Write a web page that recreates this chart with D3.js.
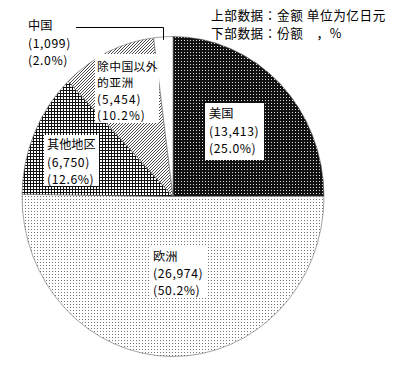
<!DOCTYPE html>
<html>
<head>
<meta charset="utf-8">
<script src="https://cdn.jsdelivr.net/npm/d3@7"></script>
<style>
  html, body { margin: 0; padding: 0; background: #fff; }
  svg { display: block; }
  text { font-family: "Noto Sans CJK JP", "Noto Sans CJK SC", sans-serif; fill: #000; }
</style>
</head>
<body>
<svg id="chart" width="400" height="366"></svg>
<script>
// Regions, clockwise from 12 o'clock
const regions = ["美国", "欧洲", "其他地区", "除中国以外的亚洲", "中国"];
const amounts = [13413, 26974, 6750, 5454, 1099];      // 亿日元
const shares  = [25.0, 50.2, 12.6, 10.2, 2.0];         // %
const labelLines = [["美国"], ["欧洲"], ["其他地区"], ["除中国以外", "的亚洲"], ["中国"]];
const noteLines = ["上部数据：金额 单位为亿日元", "下部数据：份额　，%"];

const svg = d3.select("#chart");
const cx = 173, cy = 196.5, rx = 151, ry = 160;

// Fill patterns
const defs = svg.append("defs");
function pattern(id, w, h, build) {
  const p = defs.append("pattern").attr("id", id)
    .attr("patternUnits", "userSpaceOnUse").attr("width", w).attr("height", h);
  build(p);
}
pattern("pUS", 3, 3, p => {
  p.append("rect").attr("width", 3).attr("height", 3).attr("fill", "#111");
  p.append("rect").attr("x", 1).attr("y", 1).attr("width", 1).attr("height", 1).attr("fill", "#ddd");
});
pattern("pEU", 3, 3, p => {
  p.append("rect").attr("width", 3).attr("height", 3).attr("fill", "#fff");
  p.append("rect").attr("x", 1).attr("y", 1).attr("width", 1).attr("height", 1).attr("fill", "#777");
});
pattern("pOther", 3, 3, p => {
  p.append("rect").attr("width", 3).attr("height", 3).attr("fill", "#fff");
  p.append("rect").attr("width", 3).attr("height", 1).attr("fill", "#111");
  p.append("rect").attr("width", 1).attr("height", 3).attr("fill", "#111");
});
pattern("pAsia", 3, 3, p => {
  p.append("rect").attr("width", 3).attr("height", 3).attr("fill", "#fff");
  p.append("path").attr("d", "M-1,1 L1,-1 M0,3 L3,0 M2,4 L4,2")
    .attr("stroke", "#333").attr("stroke-width", 0.9);
});
const fills = ["url(#pUS)", "url(#pEU)", "url(#pOther)", "url(#pAsia)", "#fff"];

// Angles from d3.pie, drawn on a slightly tall ellipse
const arcs = d3.pie().sort(null).value(d => d)(amounts);
const ex = a => cx + rx * Math.sin(a);
const ey = a => cy - ry * Math.cos(a);
function slicePath(d) {
  const large = d.endAngle - d.startAngle > Math.PI ? 1 : 0;
  return `M${cx},${cy}L${ex(d.startAngle)},${ey(d.startAngle)}` +
         `A${rx},${ry} 0 ${large} 1 ${ex(d.endAngle)},${ey(d.endAngle)}Z`;
}
svg.append("g").selectAll("path").data(arcs).join("path")
  .attr("d", slicePath)
  .attr("fill", (d, i) => fills[i])
  .attr("stroke", "#666").attr("stroke-width", 0.6);

// Label boxes: [box x, box y, box w, box h, text x, first line y, line step, font size]
const boxes = [
  [205, 103, 59, 57, 209, 113, 17.5, 12.2],
  [150, 246, 56, 52, 153, 256, 17, 12.2],
  [44, 135, 55, 51, 47, 144, 17.5, 12.2],
  [95, 54, 64, 69, 97, 65, 16.5, 11.8],
  [null, null, null, null, 28, 25, 17.5, 12.2]
];
const fmt = d3.format(",");
const lg = svg.append("g");
regions.forEach((r, i) => {
  const [bx, by, bw, bh, tx, ty, step, fs] = boxes[i];
  if (bx !== null) {
    lg.append("rect").attr("x", bx).attr("y", by).attr("width", bw).attr("height", bh).attr("fill", "#fff");
  }
  // one multi-line text per label: name, amount, share
  const lines = labelLines[i].map(t => ({ t, num: false }))
    .concat([`(${fmt(amounts[i])})`, `(${shares[i].toFixed(1)}%)`].map(t => ({ t, num: true })));
  lg.append("text").attr("font-size", fs)
    .selectAll("tspan").data(lines).join("tspan")
    .attr("x", tx).attr("y", (d, k) => ty + k * step)
    .attr("dominant-baseline", "central")
    .attr("letter-spacing", d => d.num ? 0.6 + (12.2 - fs) : (12.2 - fs))
    .text(d => d.t);
});

// Leader line for the China slice
const chinaMid = (arcs[4].startAngle + arcs[4].endAngle) / 2;
const lx = 163;
svg.append("path")
  .attr("d", `M76,27.5H${lx}.5V${ey(chinaMid) + 3}`)
  .attr("fill", "none").attr("stroke", "#000").attr("stroke-width", 1);

// Note on units
svg.append("text").attr("font-size", 12.6).attr("letter-spacing", 0.6)
  .selectAll("tspan").data(noteLines).join("tspan")
  .attr("x", 211).attr("y", (d, k) => 14.5 + k * 17.5)
  .attr("dominant-baseline", "central")
  .text(d => d);
</script>
</body>
</html>
